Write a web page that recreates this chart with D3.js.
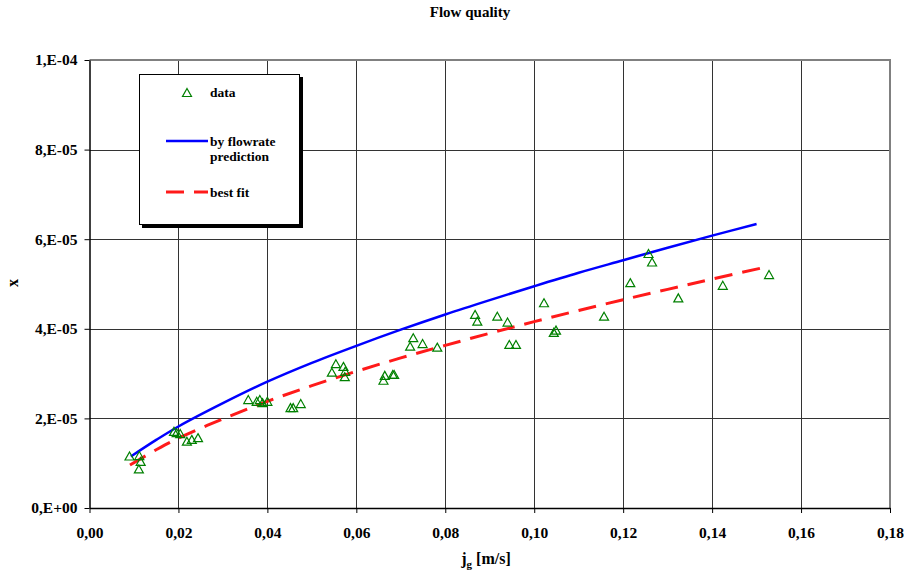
<!DOCTYPE html>
<html>
<head>
<meta charset="utf-8">
<script src="https://cdn.jsdelivr.net/npm/d3@7"></script>
<style>
  body { margin: 0; background: #fff; }
  text { font-family: "Liberation Serif", "Times New Roman", serif; font-weight: bold; }
</style>
</head>
<body>
<div id="chart"></div>
<script>
// measured points
var jgData = [0.0090, 0.0112, 0.0115, 0.0111, 0.0190, 0.0196, 0.0204, 0.0219, 0.0230, 0.0244,
              0.0357, 0.0376, 0.0383, 0.0389, 0.0400, 0.0452, 0.0458, 0.0475,
              0.0545, 0.0554, 0.0571, 0.0575, 0.0574, 0.0661, 0.0664, 0.0682, 0.0685,
              0.0721, 0.0728, 0.0749, 0.0782, 0.0867, 0.0872, 0.0917, 0.0940, 0.0944, 0.0959,
              0.1022, 0.1044, 0.1049, 0.1157, 0.1216, 0.1257, 0.1265, 0.1324, 0.1424, 0.1528];
var xData = [1.15e-5, 1.16e-5, 1.03e-5, 0.86e-5, 1.70e-5, 1.67e-5, 1.65e-5, 1.48e-5, 1.52e-5, 1.56e-5,
             2.41e-5, 2.37e-5, 2.41e-5, 2.34e-5, 2.37e-5, 2.23e-5, 2.23e-5, 2.32e-5,
             3.02e-5, 3.21e-5, 3.15e-5, 3.04e-5, 2.92e-5, 2.84e-5, 2.95e-5, 2.97e-5, 2.97e-5,
             3.60e-5, 3.79e-5, 3.66e-5, 3.58e-5, 4.31e-5, 4.16e-5, 4.27e-5, 4.14e-5, 3.64e-5, 3.64e-5,
             4.57e-5, 3.91e-5, 3.96e-5, 4.27e-5, 5.02e-5, 5.67e-5, 5.48e-5, 4.68e-5, 4.96e-5, 5.20e-5];

// "by flowrate prediction" curve
var predJg = [0.0093, 0.015, 0.02, 0.03, 0.04, 0.05, 0.06, 0.07, 0.08, 0.09, 0.10, 0.11, 0.12, 0.13, 0.14, 0.15];
var predX  = [1.15e-5, 1.52e-5, 1.82e-5, 2.34e-5, 2.82e-5, 3.24e-5, 3.62e-5, 3.98e-5, 4.32e-5, 4.64e-5,
              4.95e-5, 5.25e-5, 5.53e-5, 5.81e-5, 6.08e-5, 6.34e-5];

// "best fit" curve
var fitJg = [0.0091, 0.015, 0.02, 0.03, 0.04, 0.05, 0.06, 0.07, 0.08, 0.09, 0.10, 0.11, 0.12, 0.13, 0.14, 0.1526];
var fitX  = [0.96e-5, 1.30e-5, 1.56e-5, 1.99e-5, 2.38e-5, 2.73e-5, 3.05e-5, 3.35e-5, 3.63e-5, 3.90e-5,
             4.16e-5, 4.41e-5, 4.65e-5, 4.88e-5, 5.11e-5, 5.39e-5];

var xTicks = [0, 0.02, 0.04, 0.06, 0.08, 0.10, 0.12, 0.14, 0.16, 0.18];
var yTicks = [0, 2e-5, 4e-5, 6e-5, 8e-5, 1e-4];

var W = 904, H = 572;
var pL = 89.5, pR = 890, pT = 60, pB = 508;

var svg = d3.select("#chart").append("svg")
    .attr("width", W)
    .attr("height", H);

var x = d3.scaleLinear().domain([0, 0.18]).range([pL, pR]);
var y = d3.scaleLinear().domain([0, 1e-4]).range([pB, pT]);

function fmtX(v) {
    return v.toFixed(2).replace(".", ",");
}
function fmtY(v) {
    if (v === 0) return "0,E+00";
    var e = Math.floor(Math.log10(v) + 1e-9);
    var m = Math.round(v / Math.pow(10, e));
    var es = (e < 0 ? "-" : "+") + String(Math.abs(e)).padStart(2, "0");
    return m + ",E" + es;
}

// grid
svg.append("g").selectAll("line")
    .data(yTicks.slice(1, -1))
    .enter().append("line")
    .attr("x1", pL).attr("x2", pR)
    .attr("y1", function(d) { return Math.round(y(d)) + 0.5; })
    .attr("y2", function(d) { return Math.round(y(d)) + 0.5; })
    .style("stroke", "#333")
    .style("stroke-width", 1);

svg.append("g").selectAll("line")
    .data(xTicks.slice(1, -1))
    .enter().append("line")
    .attr("y1", pT).attr("y2", pB)
    .attr("x1", function(d) { return Math.round(x(d)) + 0.5; })
    .attr("x2", function(d) { return Math.round(x(d)) + 0.5; })
    .style("stroke", "#333")
    .style("stroke-width", 1);

// top/right frame
svg.append("path")
    .attr("d", "M" + pL + "," + pT + "H" + pR + "V" + pB)
    .style("fill", "none")
    .style("stroke", "#808080")
    .style("stroke-width", 2);

// axes
var xAxis = svg.append("g")
    .attr("transform", "translate(0," + pB + ")")
    .call(d3.axisBottom(x).tickValues(xTicks).tickFormat(fmtX).tickSize(5).tickSizeOuter(0));
xAxis.select(".domain").style("stroke", "#000").style("stroke-width", 1.5);
xAxis.selectAll(".tick line").style("stroke", "#000");
xAxis.selectAll("text")
    .attr("y", 19)
    .style("font-size", "15.5px")
    .style("font-family", "Liberation Serif")
    .style("font-weight", "bold")
    .style("fill", "#000");

var yAxis = svg.append("g")
    .attr("transform", "translate(" + pL + ",0)")
    .call(d3.axisLeft(y).tickValues(yTicks).tickFormat(fmtY).tickSize(5).tickSizeOuter(0));
yAxis.select(".domain").style("stroke", "#000").style("stroke-width", 1.5);
yAxis.selectAll(".tick line").style("stroke", "#000");
yAxis.selectAll("text")
    .attr("x", -12)
    .style("font-size", "15.5px")
    .style("font-family", "Liberation Serif")
    .style("font-weight", "bold")
    .style("fill", "#000");

// curves
var line = d3.line()
    .x(function(d) { return x(d[0]); })
    .y(function(d) { return y(d[1]); })
    .curve(d3.curveCatmullRom);

svg.append("path")
    .datum(d3.zip(predJg, predX))
    .attr("d", line)
    .style("fill", "none")
    .style("stroke", "#0000ff")
    .style("stroke-width", 2.5);

svg.append("path")
    .datum(d3.zip(fitJg, fitX))
    .attr("d", line)
    .style("fill", "none")
    .style("stroke", "#ff1a1a")
    .style("stroke-width", 3)
    .style("stroke-dasharray", "18,10");

// data triangles
var tri = "M0,-4.5L4.5,3.5L-4.5,3.5Z";
svg.append("g").selectAll("path")
    .data(d3.zip(jgData, xData))
    .enter().append("path")
    .attr("d", tri)
    .attr("transform", function(d) { return "translate(" + x(d[0]) + "," + y(d[1]) + ")"; })
    .style("fill", "none")
    .style("stroke", "#008000")
    .style("stroke-width", 1.2);

// legend
var lg = svg.append("g");
lg.append("rect")
    .attr("x", 142).attr("y", 77).attr("width", 161).attr("height", 151)
    .style("fill", "#000");
lg.append("rect")
    .attr("x", 139.5).attr("y", 74.5).attr("width", 160).attr("height", 150)
    .style("fill", "#fff")
    .style("stroke", "#000")
    .style("stroke-width", 1);

lg.append("path")
    .attr("d", tri)
    .attr("transform", "translate(187,93)")
    .style("fill", "none")
    .style("stroke", "#008000")
    .style("stroke-width", 1.2);
lg.append("text").attr("x", 210).attr("y", 97).style("font-size", "13.5px").text("data");

lg.append("line")
    .attr("x1", 166).attr("x2", 208).attr("y1", 141).attr("y2", 141)
    .style("stroke", "#0000ff").style("stroke-width", 2.5);
lg.append("text").attr("x", 210).attr("y", 146).style("font-size", "13.5px").text("by flowrate");
lg.append("text").attr("x", 210).attr("y", 161).style("font-size", "13.5px").text("prediction");

lg.append("line")
    .attr("x1", 166).attr("x2", 208).attr("y1", 192).attr("y2", 192)
    .style("stroke", "#ff1a1a").style("stroke-width", 3)
    .style("stroke-dasharray", "18,10");
lg.append("text").attr("x", 210).attr("y", 197).style("font-size", "13.5px").text("best fit");

// titles
svg.append("text")
    .attr("x", 470).attr("y", 17)
    .attr("text-anchor", "middle")
    .style("font-size", "15px")
    .text("Flow quality");

svg.append("text")
    .attr("transform", "translate(18,283) rotate(-90)")
    .attr("text-anchor", "middle")
    .style("font-size", "16px")
    .text("x");

var xt = svg.append("text")
    .attr("x", 486).attr("y", 564)
    .attr("text-anchor", "middle")
    .style("font-size", "16px");
xt.append("tspan").text("j");
xt.append("tspan").attr("dy", 4).style("font-size", "11px").text("g");
xt.append("tspan").attr("dy", -4).text(" [m/s]");
</script>
</body>
</html>
